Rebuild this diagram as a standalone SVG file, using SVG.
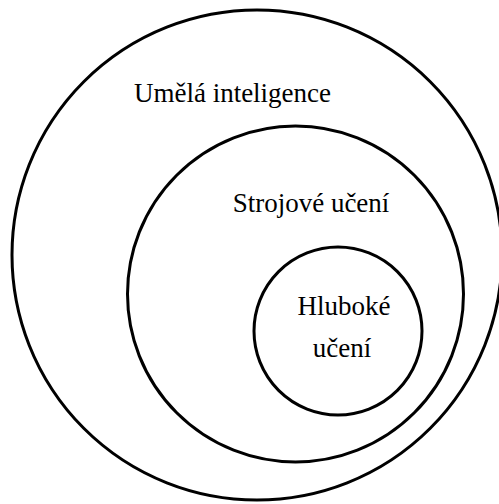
<svg xmlns="http://www.w3.org/2000/svg" width="499" height="504" viewBox="0 0 499 504">
<style>
.c{fill:none;stroke:#000;stroke-width:3}
text{font-family:'Liberation Serif','Times New Roman',serif;font-size:27px;fill:#000;text-anchor:middle}
</style>
<rect width="499" height="504" fill="#fff"/>
<g id="ai"><circle class="c" cx="257" cy="255" r="245"/><text x="232.5" y="102">Umělá inteligence</text></g>
<g id="ml"><circle class="c" cx="295.5" cy="294" r="168"/><text x="311" y="212">Strojové učení</text></g>
<g id="dl"><circle class="c" cx="338" cy="331" r="84"/><text x="344" y="315">Hluboké</text><text x="342" y="357">učení</text></g>
<g id="connectors"/>
</svg>
